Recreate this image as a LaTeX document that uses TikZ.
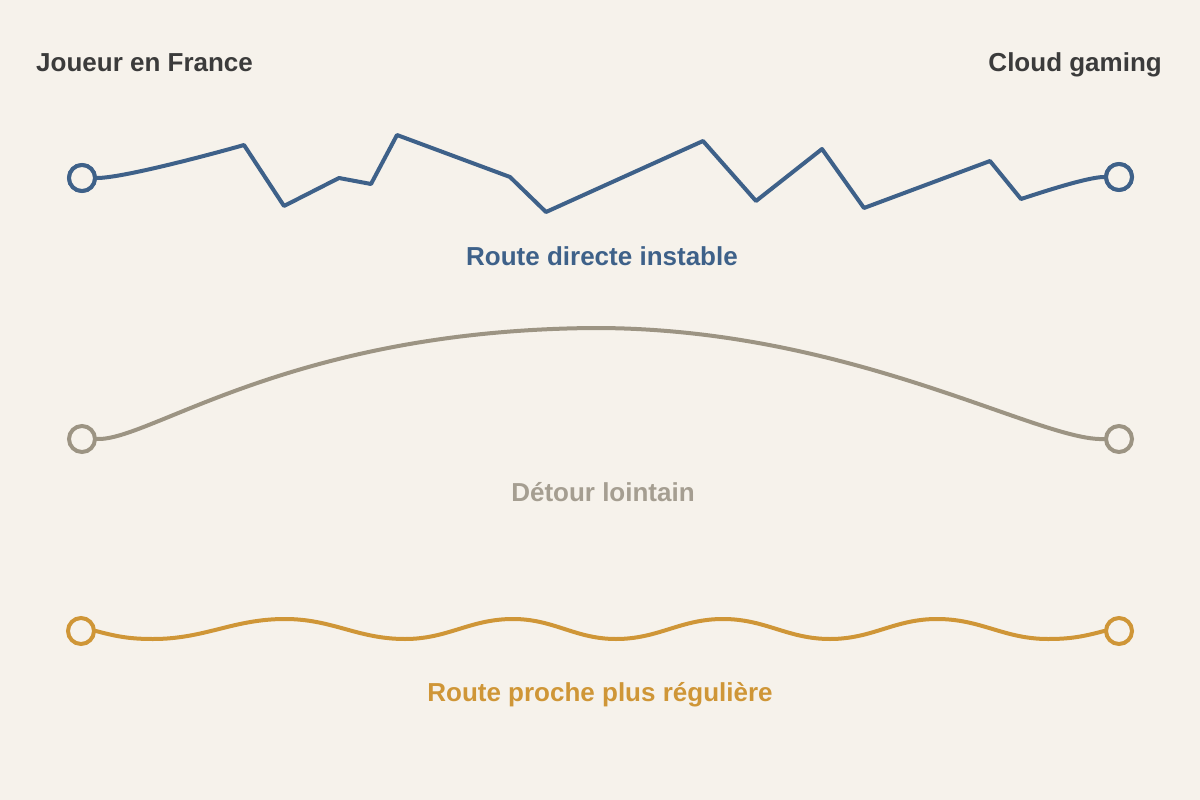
\documentclass[tikz,border=0pt]{standalone}
\usepackage{fontspec}
\setmainfont{Liberation Sans}
\definecolor{bgc}{HTML}{F6F2EB}
\definecolor{bluec}{HTML}{3E6189}
\definecolor{grayc}{HTML}{9C9483}
\definecolor{graytxt}{HTML}{A59E91}
\definecolor{goldc}{HTML}{CF9637}
\definecolor{darktxt}{HTML}{3B3B3B}
\begin{document}
\begin{tikzpicture}[x=1pt,y=-1pt,
  endpt/.style={circle,draw=#1,line width=4pt,fill=bgc,minimum size=26pt,inner sep=0pt},
  route/.style={draw=#1,line width=4pt,line join=round,line cap=round},
  lbl/.style={font=\fontsize{26}{30}\selectfont\bfseries,text=#1,inner sep=0pt}]
\fill[bgc] (0,0) rectangle (1200,800);
\useasboundingbox (0,0) rectangle (1200,800);
% headers
\node[lbl=darktxt,anchor=base west] (hl) at (36,71.5) {Joueur en France};
\node[lbl=darktxt,anchor=base east] (hr) at (1162,71) {Cloud gaming};
% route 1
\node[endpt=bluec] (a1) at (82,178) {};
\node[endpt=bluec] (b1) at (1119,177) {};
\draw[route=bluec] (a1.east) to[out=0,in=196,looseness=0.45] (244,145) -- (284,206) -- (339,178) -- (371,184) -- (397,135) -- (510,177) -- (546,212) -- (703,141) -- (756,201) -- (822,149) -- (864,208) -- (990,161) -- (1021,199) to[out=18,in=180,looseness=0.5] (b1.west);
\node[endpt=bluec] at (a1) {};
\node[endpt=bluec] at (b1) {};
\node[lbl=bluec,anchor=base] (l1) at (602,265) {Route directe instable};
% route 2
\node[endpt=grayc] (a2) at (82,439) {};
\node[endpt=grayc] (b2) at (1119,439) {};
\coordinate (p2) at (595,328);
\draw[route=grayc] (a2.east) .. controls (150,441) and (290,330) .. (p2) .. controls (850,328) and (1040,442) .. (b2.west);
\node[lbl=graytxt,anchor=base] (l2) at (603,501) {Détour lointain};
% route 3
\node[endpt=goldc] (a3) at (81,631) {};
\node[endpt=goldc] (b3) at (1119,631) {};
\draw[route=goldc] (a3.east) to[out=-15,in=180] (153,639) to[out=0,in=180] (285,619) to[out=0,in=180] (405,639) to[out=0,in=180] (513,619) to[out=0,in=180] (616,639) to[out=0,in=180] (723,619) to[out=0,in=180] (830,639) to[out=0,in=180] (937,619) to[out=0,in=180] (1048,639) to[out=0,in=195] (b3.west);
\node[lbl=goldc,anchor=base] (l3) at (600,701.5) {Route proche plus régulière};
\end{tikzpicture}
\end{document}
